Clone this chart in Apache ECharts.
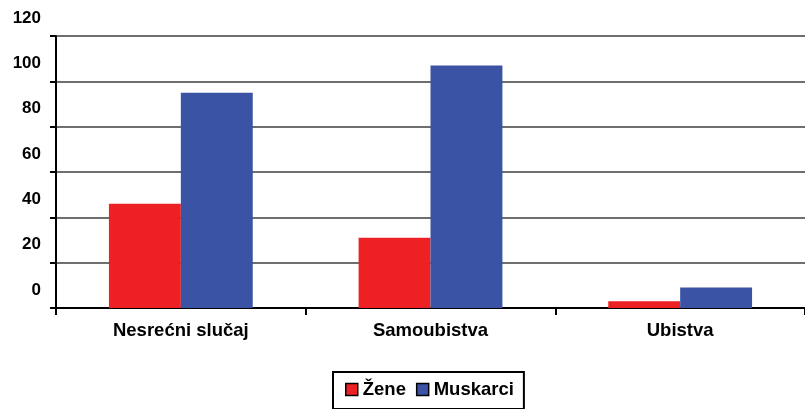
<!DOCTYPE html>
<html><head><meta charset="utf-8">
<script src="https://cdn.jsdelivr.net/npm/echarts@6/dist/echarts.min.js"></script>
<style>html,body{margin:0;padding:0;background:#fff}#c{width:805px;height:409px}</style>
</head><body><div id="c"></div>
<script>
var categories = ['Nesrećni slučaj', 'Samoubistva', 'Ubistva'];
var zene = [46, 31, 3];
var muskarci = [95, 107, 9];
var seriesNames = ['Žene', 'Muskarci'];

var chart = echarts.init(document.getElementById('c'));
var font = 'Liberation Sans, Arial, sans-serif';
chart.setOption({
  animation: false,
  grid: {left: 56, right: 0, top: 36, bottom: 101, containLabel: false},
  legend: {
    data: seriesNames, left: 333, top: 372, icon: 'rect', itemWidth: 12, itemHeight: 12, itemGap: 10,
    borderColor: '#000', borderWidth: 2, padding: [8, 10, 10, 12],
    textStyle: {fontFamily: font, fontWeight: 'bold', fontSize: 18.5, color: '#000'},
    itemStyle: {borderColor: '#000', borderWidth: 1.5}
  },
  xAxis: {
    type: 'category', data: categories,
    axisLine: {lineStyle: {color: '#000', width: 2}},
    axisTick: {show: true, length: 7, lineStyle: {color: '#000', width: 2}},
    axisLabel: {margin: 13, fontFamily: font, fontWeight: 'bold', fontSize: 18.5, color: '#000'}
  },
  yAxis: {
    type: 'value', min: 0, max: 120, interval: 20,
    axisLine: {show: true, lineStyle: {color: '#000', width: 2}},
    axisTick: {show: true, length: 6, lineStyle: {color: '#000', width: 2}},
    axisLabel: {margin: 15, fontFamily: font, fontWeight: 'bold', fontSize: 17, color: '#000',
      showMinLabel: true, showMaxLabel: true,
      verticalAlign: 'bottom', lineHeight: 36},
    splitLine: {show: true, lineStyle: {color: '#6e6e6e', width: 2}}
  },
  series: [
    {name: seriesNames[0], type: 'bar', data: zene, barGap: '0%', barCategoryGap: '42.4%', itemStyle: {color: '#ED2024'}},
    {name: seriesNames[1], type: 'bar', data: muskarci, barGap: '0%', barCategoryGap: '42.4%', itemStyle: {color: '#3A53A4'}}
  ]
});
</script></body></html>
